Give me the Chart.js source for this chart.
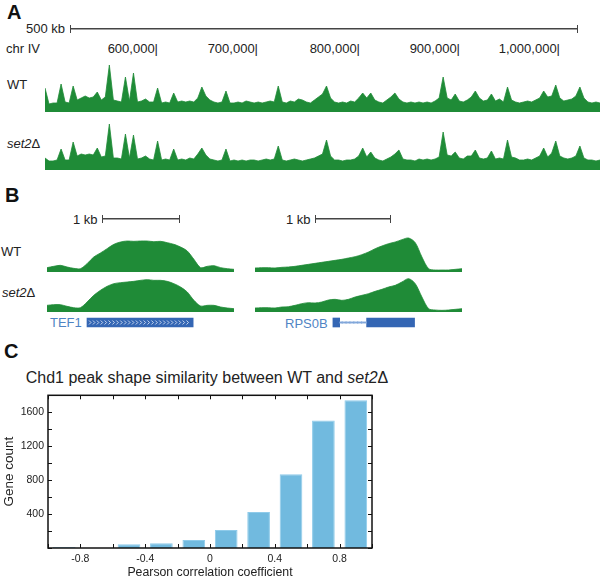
<!DOCTYPE html>
<html>
<head>
<meta charset="utf-8">
<script src="https://cdn.jsdelivr.net/npm/chart.js@4.4.0/dist/chart.umd.min.js"></script>
<style>
  body { margin: 0; background: #fff; font-family: "Liberation Sans", Arial, sans-serif; color: #222; }
  #fig { position: relative; width: 600px; height: 580px; overflow: hidden; }
  .plot { position: absolute; }
  .txt { position: absolute; white-space: nowrap; font-size: 13px; line-height: 13px; }
  .panel { position: absolute; font-weight: bold; font-size: 20px; line-height: 20px; color: #111; }
  .scalebar { position: absolute; height: 8px; box-sizing: border-box;
              border-left: 1.5px solid #444; border-right: 1.5px solid #444;
              background: linear-gradient(#444, #444) center / 100% 1.5px no-repeat; }
  .gene { color: #4f84c4; }
</style>
</head>
<body>
<div id="fig">
  <!-- A -->
  <div class="panel" style="left:7px;top:2px">A</div>
  <div class="txt" style="right:535px;top:22px">500 kb</div>
  <div class="scalebar" style="left:70px;top:25px;width:508px"></div>
  <div class="txt" style="left:6px;top:42px">chr IV</div>
  <div class="txt" style="right:442px;top:42px">600,000|</div>
  <div class="txt" style="right:342px;top:42px">700,000|</div>
  <div class="txt" style="right:240px;top:42px">800,000|</div>
  <div class="txt" style="right:140px;top:42px">900,000|</div>
  <div class="txt" style="right:40px;top:42px">1,000,000|</div>
  <div class="txt" style="left:7px;top:78px">WT</div>
  <div class="txt" style="left:7px;top:137px"><i>set2</i>Δ</div>
  <div class="plot" style="left:45px;top:59px;width:555px;height:53px"><canvas id="wtA"></canvas></div>
  <div class="plot" style="left:45px;top:117px;width:555px;height:53px"><canvas id="set2A"></canvas></div>

  <!-- B -->
  <div class="panel" style="left:5px;top:185px">B</div>
  <div class="txt" style="left:73px;top:213px">1 kb</div>
  <div class="scalebar" style="left:102px;top:215px;width:78px"></div>
  <div class="txt" style="left:286px;top:213px">1 kb</div>
  <div class="scalebar" style="left:315px;top:215px;width:76px"></div>
  <div class="txt" style="left:1px;top:245px">WT</div>
  <div class="txt" style="left:2px;top:286px"><i>set2</i>Δ</div>
  <div class="plot" style="left:47px;top:237px;width:187px;height:35px"><canvas id="wtTEF1"></canvas></div>
  <div class="plot" style="left:255px;top:237px;width:207px;height:35px"><canvas id="wtRPS0B"></canvas></div>
  <div class="plot" style="left:47px;top:277px;width:187px;height:35px"><canvas id="set2TEF1"></canvas></div>
  <div class="plot" style="left:255px;top:277px;width:207px;height:35px"><canvas id="set2RPS0B"></canvas></div>
  <div class="txt gene" style="left:50px;top:316px">TEF1</div>
  <div class="txt gene" style="left:285px;top:317px">RPS0B</div>
  <div class="plot" style="left:47px;top:314px;width:190px;height:17px"><canvas id="geneTEF1"></canvas></div>
  <div class="plot" style="left:255px;top:314px;width:209px;height:17px"><canvas id="geneRPS0B"></canvas></div>

  <!-- C -->
  <div class="panel" style="left:4px;top:341px">C</div>
  <div class="txt" style="left:207px;top:370px;font-size:16px;line-height:16px;transform:translateX(-50%)">Chd1 peak shape similarity between WT and <i>set2</i>Δ</div>
  <div class="plot" style="left:0;top:385px;width:380px;height:195px"><canvas id="histC"></canvas></div>
</div>

<script>
// Panel A: Chd1 signal along chr IV (one value every ~4 px of track)
const wtChrIV = [
  24, 8, 9, 9, 28, 10, 9, 26, 12, 14, 16, 14, 15, 20, 12, 15, 47, 12, 11, 10, 35, 11, 39, 10, 11,
  13, 10, 10, 24, 9, 10, 9, 19, 10, 11, 10, 11, 10, 14, 25, 16, 12, 10, 9, 10, 21, 9,
  9, 10, 9, 11, 10, 9, 10, 9, 10, 11, 10, 26, 10, 9, 11, 10, 13, 12, 10, 9, 12, 15, 18, 26,
  14, 10, 9, 10, 9, 11, 10, 14, 19, 14, 19, 12, 10, 9, 12, 15, 19, 13, 10, 9, 10, 9,
  10, 9, 10, 9, 11, 14, 35, 14, 12, 18, 11, 10, 12, 15, 21, 14, 11, 12, 18, 11, 13, 10, 25,
  12, 10, 9, 10, 11, 10, 12, 14, 21, 15, 16, 27, 14, 11, 12, 13, 16, 25, 14, 10, 9, 10, 9
];
const set2ChrIV = [
  12, 9, 9, 10, 21, 10, 10, 28, 14, 16, 15, 16, 15, 22, 13, 14, 46, 12, 12, 11, 36, 12, 35, 11, 12,
  14, 11, 10, 29, 10, 11, 10, 21, 10, 11, 10, 12, 11, 16, 22, 15, 11, 10, 9, 10, 21, 9,
  10, 9, 10, 9, 10, 10, 9, 10, 11, 10, 11, 24, 10, 9, 10, 11, 10, 9, 10, 11, 12, 14, 16, 30,
  14, 10, 10, 9, 10, 10, 11, 14, 22, 13, 18, 12, 10, 9, 11, 13, 16, 20, 11, 10, 10, 9,
  11, 10, 11, 10, 11, 13, 38, 15, 14, 18, 12, 11, 14, 14, 20, 12, 11, 12, 19, 11, 12, 11, 30,
  13, 12, 10, 10, 11, 10, 12, 14, 22, 13, 17, 29, 14, 12, 11, 12, 14, 24, 12, 10, 10, 9, 10
];

// Panel B: close-ups of two peaks
const wtTEF1 = [13, 17, 20, 15, 11, 10, 25, 45, 57, 70, 83, 90, 93, 92, 93, 93, 91, 92, 88, 83, 75, 63, 38, 13, 17, 19, 13, 10, 8];
const set2TEF1 = [20, 22, 22, 17, 13, 13, 30, 50, 65, 77, 85, 88, 90, 92, 95, 97, 95, 95, 92, 85, 75, 60, 35, 18, 20, 20, 15, 12, 10];
const wtRPS0B = [12, 13, 13, 12, 14, 15, 17, 20, 23, 26, 29, 32, 35, 38, 42, 46, 52, 60, 70, 78, 85, 90, 97, 102, 88, 45, 10, 6, 6, 6, 8, 10];
const set2RPS0B = [12, 13, 13, 12, 15, 16, 20, 25, 28, 27, 30, 36, 38, 35, 38, 45, 50, 55, 62, 68, 75, 80, 90, 100, 85, 45, 10, 6, 5, 6, 8, 10];

// gene models, kb from the left edge of each window
const tef1WindowKb = 2.47;
const tef1Exon = [0.52, 1.90];
const rps0bWindowKb = 2.79;
const rps0bExons = [[1.04, 1.13], [1.49, 2.13]];
const rps0bIntron = [1.13, 1.49];

// Panel C: histogram of Pearson correlations
const binCenters = [-0.9, -0.7, -0.5, -0.3, -0.1, 0.1, 0.3, 0.5, 0.7, 0.9];
const geneCounts = [12, 0, 45, 55, 95, 212, 425, 868, 1503, 1742];
const xTickLabels = [-0.8, -0.4, 0, 0.4, 0.8];
const yTickLabels = [400, 800, 1200, 1600];

const GREEN = '#1f8b37';
const GENE_BLUE = '#3466b4';
const BAR_BLUE = '#71badf';

Chart.defaults.font.family = '"Liberation Sans", Arial, sans-serif';
Chart.defaults.color = '#222';

function bareOptions(yMax) {
    return {
        responsive: true,
        maintainAspectRatio: false,
        animation: false,
        events: [],
        layout: { padding: 0 },
        plugins: { legend: { display: false }, tooltip: { enabled: false } },
        scales: {
            x: { display: false },
            y: { display: false, min: 0, max: yMax }
        }
    };
}

function trackChart(id, values, yMax, tension) {
    new Chart(document.getElementById(id), {
        type: 'line',
        data: {
            labels: values.map((v, i) => i),
            datasets: [{
                data: values,
                fill: 'origin',
                backgroundColor: GREEN,
                borderColor: GREEN,
                borderWidth: 0.8,
                pointRadius: 0,
                tension: tension
            }]
        },
        options: bareOptions(yMax)
    });
}

trackChart('wtA', wtChrIV, 53, 0);
trackChart('set2A', set2ChrIV, 53, 0);
trackChart('wtTEF1', wtTEF1, 105, 0.3);
trackChart('set2TEF1', set2TEF1, 105, 0.3);
trackChart('wtRPS0B', wtRPS0B, 105, 0.3);
trackChart('set2RPS0B', set2RPS0B, 105, 0.3);

// little arrows showing strand direction inside gene features
const chevrons = {
    id: 'chevrons',
    afterDatasetsDraw(chart) {
        const ctx = chart.ctx;
        chart.data.datasets.forEach((ds, i) => {
            if (!ds.chevronColor) return;
            chart.getDatasetMeta(i).data.forEach(el => {
                const left = Math.min(el.x, el.base) + 2;
                const right = Math.max(el.x, el.base) - 3;
                const h = ds.chevronSize;
                ctx.save();
                ctx.strokeStyle = ds.chevronColor;
                ctx.lineWidth = 0.8;
                for (let x = left; x <= right; x += 3.9) {
                    ctx.beginPath();
                    ctx.moveTo(x, el.y - h);
                    ctx.lineTo(x + h, el.y);
                    ctx.lineTo(x, el.y + h);
                    ctx.stroke();
                }
                ctx.restore();
            });
        });
    }
};

function geneChart(id, windowKb, exons, intron, arrowsInExon) {
    const datasets = [];
    if (intron) {
        datasets.push({
            data: [{ x: intron, y: 'g' }],
            backgroundColor: '#7fa5d9',
            barThickness: 1.2,
            grouped: false,
            chevronColor: '#8fb2e0',
            chevronSize: 1.5
        });
    }
    datasets.push({
        data: exons.map(e => ({ x: e, y: 'g' })),
        backgroundColor: GENE_BLUE,
        barThickness: 9,
        grouped: false,
        chevronColor: arrowsInExon ? '#e8effa' : null,
        chevronSize: 2
    });
    const opts = bareOptions(1);
    opts.indexAxis = 'y';
    opts.scales = {
        x: { type: 'linear', display: false, min: 0, max: windowKb },
        y: { type: 'category', labels: ['g'], display: false }
    };
    new Chart(document.getElementById(id), {
        type: 'bar',
        data: { datasets: datasets },
        options: opts,
        plugins: [chevrons]
    });
}

geneChart('geneTEF1', tef1WindowKb, [tef1Exon], null, true);
geneChart('geneRPS0B', rps0bWindowKb, rps0bExons, rps0bIntron, false);

// box frame with inward ticks on all four sides
const frameTicks = {
    id: 'frameTicks',
    afterDraw(chart) {
        const { ctx, chartArea: a } = chart;
        const x = chart.scales.x, y = chart.scales.y;
        ctx.save();
        ctx.strokeStyle = '#111';
        ctx.lineWidth = 1;
        ctx.beginPath();
        x.ticks.forEach(t => {
            const px = Math.round(x.getPixelForValue(t.value)) + 0.5;
            ctx.moveTo(px, a.bottom); ctx.lineTo(px, a.bottom - 4);
            ctx.moveTo(px, a.top); ctx.lineTo(px, a.top + 4);
        });
        y.ticks.forEach(t => {
            const py = Math.round(y.getPixelForValue(t.value)) + 0.5;
            ctx.moveTo(a.left, py); ctx.lineTo(a.left + 4, py);
            ctx.moveTo(a.right, py); ctx.lineTo(a.right - 4, py);
        });
        ctx.stroke();
        ctx.lineWidth = 1.5;
        ctx.strokeRect(a.left, a.top, a.right - a.left, a.bottom - a.top);
        ctx.restore();
    }
};

new Chart(document.getElementById('histC'), {
    type: 'bar',
    data: {
        datasets: [{
            data: binCenters.map((c, i) => ({ x: c, y: geneCounts[i] })),
            backgroundColor: BAR_BLUE,
            borderColor: '#8fcbea',
            borderWidth: 1,
            barPercentage: 0.7,
            categoryPercentage: 1
        }]
    },
    options: {
        responsive: true,
        maintainAspectRatio: false,
        animation: false,
        events: [],
        layout: { padding: { top: 9, right: 8, left: 0, bottom: 0 } },
        plugins: { legend: { display: false }, tooltip: { enabled: false } },
        scales: {
            x: {
                type: 'linear',
                min: -1,
                max: 1,
                offset: false,
                grid: { display: false, drawTicks: false },
                border: { display: false },
                ticks: {
                    stepSize: 0.2,
                    autoSkip: false,
                    maxRotation: 0,
                    padding: 5,
                    font: { size: 10.5 },
                    callback: v => {
                        const r = Math.round(v * 10) / 10;
                        return xTickLabels.includes(r) ? String(r === 0 ? 0 : r) : '';
                    }
                },
                title: { display: true, text: 'Pearson correlation coefficient', font: { size: 12.3 }, padding: { top: 2, bottom: 0 } },
                afterFit: s => { s.height = 32; }
            },
            y: {
                min: 0,
                max: 1800,
                grid: { display: false, drawTicks: false },
                border: { display: false },
                ticks: {
                    stepSize: 200,
                    autoSkip: false,
                    padding: 4,
                    font: { size: 10.5 },
                    callback: v => yTickLabels.includes(Math.round(v)) ? String(Math.round(v)) : ''
                },
                title: { display: true, text: 'Gene count', font: { size: 13.5 }, padding: { top: 1, bottom: 0 } },
                afterFit: s => { s.width = 48; }
            }
        }
    },
    plugins: [frameTicks]
});
</script>
</body>
</html>
